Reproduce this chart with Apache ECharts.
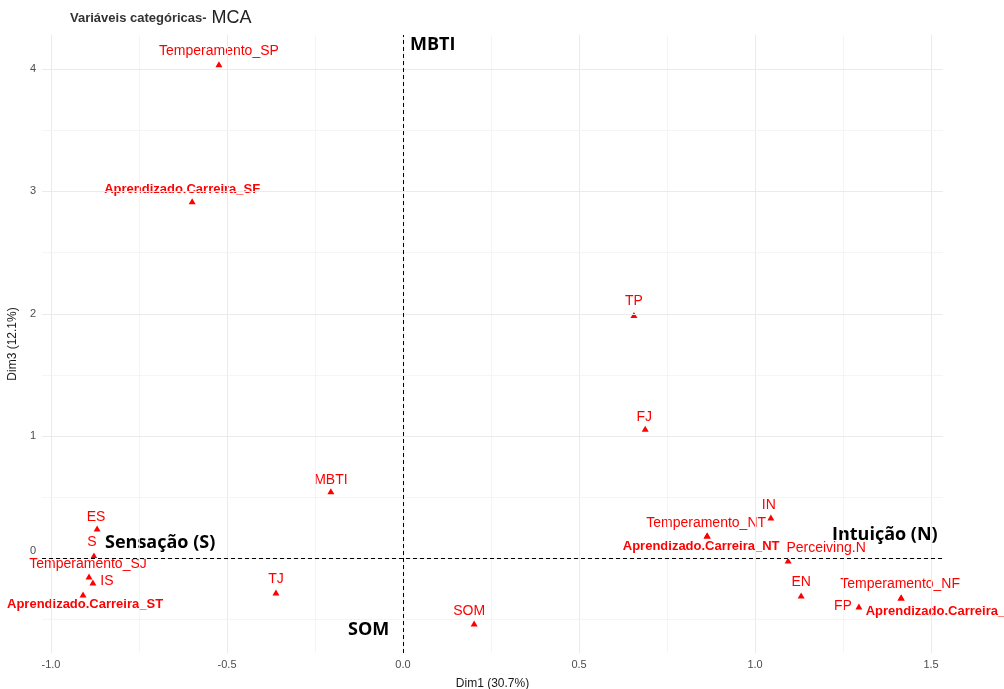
<!DOCTYPE html>
<html>
<head>
<meta charset="utf-8">
<script src="https://cdn.jsdelivr.net/npm/echarts@6/dist/echarts.min.js"></script>
<style>
  html, body { margin: 0; padding: 0; background: #fff; }
  #chart { width: 1004px; height: 689px; }
</style>
</head>
<body>
<div id="chart"></div>
<script>
// categorias (pontos do MCA)
const categories = [
  'Temperamento_SP', 'Aprendizado.Carreira_SF', 'TP', 'FJ', 'MBTI',
  'ES', 'S', 'Temperamento_SJ', 'IS', 'Aprendizado.Carreira_ST', 'TJ',
  'SOM', 'IN', 'Temperamento_NT', 'Aprendizado.Carreira_NT', 'Perceiving.N',
  'EN', 'Temperamento_NF', 'FP', 'Aprendizado.Carreira_NF'
]
const dim1 = [
  -0.523, -0.599, 0.656, 0.688, -0.205,
  -0.869, -0.878, -0.892, -0.881, -0.909, -0.361,
  0.202, 1.045, 0.864, 0.864, 1.094,
  1.131, 1.415, 1.295, 1.415
]
const dim3 = [
  4.04, 2.92, 1.99, 1.06, 0.55,
  0.245, 0.025, -0.147, -0.196, -0.294, -0.278,
  -0.531, 0.335, 0.188, 0.188, -0.016,
  -0.302, -0.318, -0.392, -0.318
]

const xTicks = [-1, -0.5, 0, 0.5, 1, 1.5]
const yTicks = [0, 1, 2, 3, 4]
const xGridMinor = [-0.75, -0.25, 0.25, 0.75, 1.25]
const yGridMinor = [-0.5, 0.5, 1.5, 2.5, 3.5]

// deslocamento dos rótulos (estilo, tipo ggrepel)
const labelOffsets = [
  [0, -13], [-10, -12], [0, -14], [-1, -12], [0, -11],
  [-1, -11], [-2, -13], [-1, -12], [14, -1], [2, 10], [0, -13],
  [-5, -12], [-2, -12], [-1, -12], [-6, 11], [38, -12],
  [0, -13], [-1, -13], [-16, 0], [43, 14]
]

const points = categories.map((name, i) => {
  const bold = name.indexOf('Aprendizado') === 0
  return {
    name: name,
    value: [dim1[i], dim3[i]],
    label: {
      fontWeight: bold ? 'bold' : 'normal',
      fontSize: bold ? 13 : 14
    }
  }
})

const gridLines = []
xTicks.forEach(v => gridLines.push({ xAxis: v, lineStyle: { color: '#ebebeb', width: 1.1, type: 'solid' } }))
xGridMinor.forEach(v => gridLines.push({ xAxis: v, lineStyle: { color: '#f2f2f2', width: 0.8, type: 'solid' } }))
yTicks.forEach(v => gridLines.push({ yAxis: v, lineStyle: { color: '#ebebeb', width: 1.1, type: 'solid' } }))
yGridMinor.forEach(v => gridLines.push({ yAxis: v, lineStyle: { color: '#f2f2f2', width: 0.8, type: 'solid' } }))

const myChart = echarts.init(document.getElementById('chart'), null, { renderer: 'canvas' })

const options = {
  backgroundColor: '#fff',
  animation: false,
  grid: { left: 42, right: 61, top: 35, bottom: 36, containLabel: false, outerBoundsMode: 'none' },
  xAxis: {
    type: 'value',
    min: -1.0256,
    max: 1.534,
    name: 'Dim1 (30.7%)',
    nameLocation: 'middle',
    nameGap: 25,
    nameTextStyle: { color: '#1a1a1a', fontSize: 12, fontFamily: '"Liberation Sans", Arial, sans-serif' },
    axisLine: { show: false },
    axisTick: { show: true, length: 4, lineStyle: { color: '#333' }, customValues: xTicks },
    axisLabel: {
      color: '#4d4d4d', fontSize: 11, margin: 6,
      fontFamily: '"Liberation Sans", Arial, sans-serif',
      customValues: xTicks,
      formatter: v => v.toFixed(1)
    },
    splitLine: { show: false }
  },
  yAxis: {
    type: 'value',
    min: -0.772,
    max: 4.278,
    name: 'Dim3 (12.1%)',
    nameLocation: 'middle',
    nameGap: 20,
    nameTextStyle: { color: '#1a1a1a', fontSize: 12, fontFamily: '"Liberation Sans", Arial, sans-serif' },
    axisLine: { show: false },
    axisTick: { show: true, length: 4, lineStyle: { color: '#333' }, customValues: yTicks },
    axisLabel: {
      color: '#4d4d4d', fontSize: 11, margin: 6,
      fontFamily: '"Liberation Sans", Arial, sans-serif',
      customValues: yTicks,
      formatter: v => (v === 0 ? '{z|0}' : String(v)),
      rich: { z: { color: '#4d4d4d', fontSize: 11, padding: [0, 0, 16, 0] } }
    },
    splitLine: { show: false }
  },
  graphic: [
    {
      type: 'text', left: 70, top: 9,
      style: {
        text: '{a|Variáveis categóricas-}{b|MCA}',
        rich: {
          a: { fontFamily: '"Liberation Sans", Arial, sans-serif', fontWeight: 'bold', fontSize: 13, fill: '#333' },
          b: { fontFamily: '"Liberation Sans", Arial, sans-serif', fontSize: 18, fill: '#222', padding: [0, 0, 0, 5] }
        }
      }
    },
    { type: 'text', left: 410, top: 36, style: { text: 'MBTI', font: 'bold 18px "Open Sans", sans-serif', fill: '#000' } },
    { type: 'text', left: 105, top: 534, style: { text: 'Sensação (S)', font: 'bold 18px "Open Sans", sans-serif', fill: '#000' } },
    { type: 'text', left: 832, top: 526, style: { text: 'Intuição (N)', font: 'bold 18px "Open Sans", sans-serif', fill: '#000' } },
    { type: 'text', left: 348, top: 621, style: { text: 'SOM', font: 'bold 18px "Open Sans", sans-serif', fill: '#000' } }
  ],
  series: [
    {
      // linhas de grade
      type: 'scatter',
      data: [],
      z: 1,
      silent: true,
      markLine: {
        silent: true,
        symbol: 'none',
        label: { show: false },
        animation: false,
        data: gridLines
      }
    },
    {
      // linhas tracejadas em zero
      type: 'scatter',
      data: [],
      z: 2,
      silent: true,
      markLine: {
        silent: true,
        symbol: 'none',
        label: { show: false },
        animation: false,
        lineStyle: { color: '#000', type: [4, 3], width: 1 },
        data: [{ xAxis: 0 }, { yAxis: 0 }]
      }
    },
    {
      type: 'scatter',
      z: 3,
      symbol: 'triangle',
      symbolSize: [7, 6],
      itemStyle: { color: '#ff0000', opacity: 1 },
      label: {
        show: true,
        position: 'inside',
        color: '#ff0000',
        fontFamily: '"Liberation Sans", Arial, sans-serif',
        formatter: p => p.name
      },
      labelLayout: function (params) {
        const off = labelOffsets[params.dataIndex]
        const cx = params.rect.x + params.rect.width / 2
        const cy = params.rect.y + params.rect.height / 2
        return {
          x: cx + off[0],
          y: cy + off[1],
          align: 'center',
          verticalAlign: 'middle',
          hideOverlap: false
        }
      },
      data: points
    }
  ]
}

myChart.setOption(options)
</script>
</body>
</html>
